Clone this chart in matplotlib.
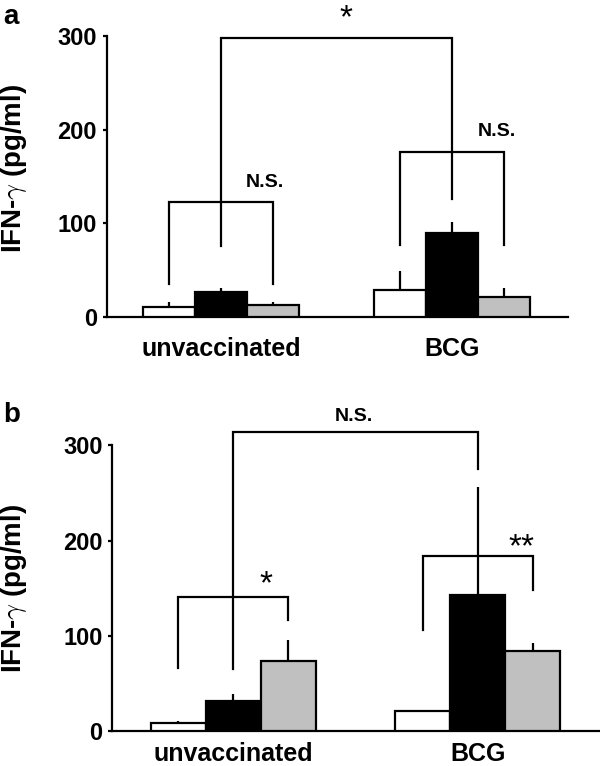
import matplotlib.pyplot as plt
import numpy as np

plt.rcParams['font.family'] = ['Liberation Sans', 'DejaVu Sans']
plt.rcParams['font.weight'] = 'bold'
plt.rcParams['mathtext.fontset'] = 'cm'

groups = ['unvaccinated', 'BCG']
colors = ['white', 'black', '#c0c0c0']

# panel a, values and upper errors (white, black, gray)
a_vals = [[11, 27, 12.5], [29, 90, 21]]
a_err = [[5, 4, 3.5], [20, 12, 10]]

# panel b
b_vals = [[8, 31.5, 73.5], [21, 143, 84.5]]
b_err = [[2.5, 7, 22], [0, 113, 7.5]]

group_x = [2.2, 6.65]
width = 1.0


def bracket(ax, x1, x2, y, y1, y2):
    # horizontal line at y with legs down to y1 (left) and y2 (right)
    ax.plot([x1, x1, x2, x2], [y1, y, y, y2], color='black', lw=1.6,
            clip_on=False, solid_joinstyle='miter')


def draw_bars(ax, vals, err, xlabels, label_x, label_y, xpad):
    for g in range(len(groups)):
        for i in range(3):
            x = group_x[g] + (i - 1) * width
            ax.bar(x, vals[g][i], width=width, color=colors[i],
                   edgecolor='black', linewidth=1.6, zorder=3)
            if err[g][i] > 0:
                ax.vlines(x, vals[g][i], vals[g][i] + err[g][i],
                          color='black', lw=1.6, zorder=2)
    ax.set_xlim(0, 8.87)
    ax.set_ylim(0, 300)
    ax.set_yticks([0, 100, 200, 300])
    ax.set_xticks(group_x)
    ax.set_xticklabels(xlabels)
    ax.tick_params(axis='x', length=0, pad=xpad, labelsize=18)
    ax.tick_params(axis='y', length=3, width=1.6, direction='out', pad=4,
                   labelsize=17)
    for lab in ax.get_xticklabels() + ax.get_yticklabels():
        lab.set_fontweight('bold')
    ax.spines['top'].set_visible(False)
    ax.spines['right'].set_visible(False)
    ax.spines['left'].set_linewidth(1.6)
    ax.spines['bottom'].set_linewidth(1.6)
    ax.set_ylabel(r'IFN-$\gamma$ (pg/ml)', fontsize=20, fontweight='bold')
    ax.yaxis.set_label_coords(label_x, label_y)


fig = plt.figure(figsize=(6, 7.66), dpi=100)

# panel a
ax1 = fig.add_axes([0.178, 0.586, 0.768, 0.367])
draw_bars(ax1, a_vals, a_err, ['unvaccinated', 'BCG'], -0.168, 0.53, 14)
bracket(ax1, group_x[0], group_x[1], 298, 76, 126)
bracket(ax1, group_x[0] - 1, group_x[0] + 1, 123, 35, 35)
bracket(ax1, group_x[1] - 1, group_x[1] + 1, 176, 77.5, 77.5)
ax1.text(3.05, 144, 'N.S.', ha='center', va='center', fontsize=14,
         fontweight='bold')
ax1.text(7.5, 198, 'N.S.', ha='center', va='center', fontsize=14,
         fontweight='bold')
ax1.text(4.6, 318, '*', ha='center', va='center', fontsize=24,
         fontweight='normal', clip_on=False)

# panel b
ax2 = fig.add_axes([0.187, 0.0457, 0.813, 0.373])
draw_bars(ax2, b_vals, b_err, ['unvaccinated', 'BCG'], -0.17, 0.5, 8)
bracket(ax2, group_x[0], group_x[1], 313.5, 65, 275)
bracket(ax2, group_x[0] - 1, group_x[0] + 1, 141, 66, 117)
bracket(ax2, group_x[1] - 1, group_x[1] + 1, 184, 106, 148)
ax2.text(4.4, 330, 'N.S.', ha='center', va='center', fontsize=14,
         fontweight='bold', clip_on=False)
ax2.text(2.8, 154, '*', ha='center', va='center', fontsize=24,
         fontweight='normal')
ax2.text(7.45, 192, '**', ha='center', va='center', fontsize=24,
         fontweight='normal')

fig.text(0.005, 0.995, 'a', fontsize=20, fontweight='bold', va='top')
fig.text(0.005, 0.475, 'b', fontsize=20, fontweight='bold', va='top')

plt.savefig('out.png', dpi=100)
